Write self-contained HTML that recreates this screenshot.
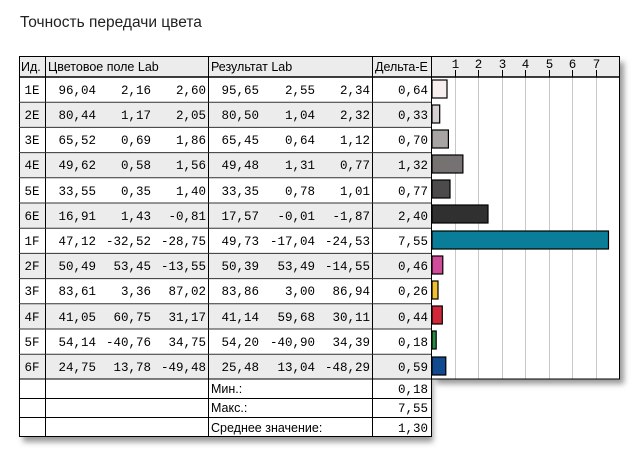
<!DOCTYPE html>
<html><head><meta charset="utf-8"><style>
html,body{margin:0;padding:0;background:#fff;width:640px;height:460px;overflow:hidden}
svg{display:block}
.m{font-family:"Liberation Mono",monospace;font-size:12.5px;fill:#000}
.s{font-family:"Liberation Sans","DejaVu Sans",sans-serif;font-size:12.5px;fill:#000}
</style></head><body>
<svg width="640" height="460" viewBox="0 0 640 460">
<defs><filter id="sh" x="-5%" y="-5%" width="115%" height="115%"><feGaussianBlur stdDeviation="3"/></filter></defs>
<text x="20" y="27" font-family="Liberation Sans, DejaVu Sans, sans-serif" font-size="15.5" fill="#222">Точность передачи цвета</text>
<rect x="23" y="62" width="410" height="380" fill="#999" filter="url(#sh)"/>
<rect x="436" y="62" width="188" height="322" fill="#999" filter="url(#sh)"/>
<rect x="19" y="56" width="412" height="381" fill="#fff"/>
<rect x="431" y="56" width="189" height="323" fill="#fff"/>
<rect x="19" y="56" width="601" height="21" fill="#ececec"/>
<rect x="19" y="102.2" width="412" height="25.2" fill="#ececec"/>
<rect x="19" y="152.6" width="412" height="25.2" fill="#ececec"/>
<rect x="19" y="203" width="412" height="25.2" fill="#ececec"/>
<rect x="19" y="253.4" width="412" height="25.2" fill="#ececec"/>
<rect x="19" y="303.8" width="412" height="25.2" fill="#ececec"/>
<rect x="19" y="354.2" width="412" height="25.2" fill="#ececec"/>
<g stroke="#c8c8c8" stroke-width="1">
<line x1="455.5" y1="77" x2="455.5" y2="379"/><line x1="478.5" y1="77" x2="478.5" y2="379"/>
<line x1="502.5" y1="77" x2="502.5" y2="379"/><line x1="525.5" y1="77" x2="525.5" y2="379"/>
<line x1="549.5" y1="77" x2="549.5" y2="379"/><line x1="572.5" y1="77" x2="572.5" y2="379"/>
<line x1="596.5" y1="77" x2="596.5" y2="379"/>
</g>
<g stroke="#000" stroke-width="1">
<line x1="455.5" y1="70" x2="455.5" y2="77"/><line x1="478.5" y1="70" x2="478.5" y2="77"/>
<line x1="502.5" y1="70" x2="502.5" y2="77"/><line x1="525.5" y1="70" x2="525.5" y2="77"/>
<line x1="549.5" y1="70" x2="549.5" y2="77"/><line x1="572.5" y1="70" x2="572.5" y2="77"/>
<line x1="596.5" y1="70" x2="596.5" y2="77"/>
</g>
<g class="m" font-size="11" text-anchor="middle">
<text x="455.5" y="68">1</text><text x="478.5" y="68">2</text><text x="502.5" y="68">3</text><text x="525.5" y="68">4</text><text x="549.5" y="68">5</text><text x="572.5" y="68">6</text><text x="596.5" y="68">7</text>
</g>
<g stroke="#000" stroke-width="1.2">
<rect x="432" y="80" width="15" height="18" fill="#f8eeee"/>
<rect x="432" y="105" width="7.7" height="18" fill="#d8d0d0"/>
<rect x="432" y="130" width="16.4" height="18" fill="#a8a4a4"/>
<rect x="432" y="155" width="30.9" height="18" fill="#767272"/>
<rect x="432" y="180" width="18" height="18" fill="#4c4a4a"/>
<rect x="432" y="205" width="56" height="18" fill="#303030"/>
<rect x="432" y="231" width="176.5" height="18" fill="#0a7e98"/>
<rect x="432" y="256" width="10.8" height="18" fill="#d04c9a"/>
<rect x="432" y="281" width="6" height="18" fill="#f0c030"/>
<rect x="432" y="306" width="10.3" height="18" fill="#d02838"/>
<rect x="432" y="331" width="4.2" height="18" fill="#2a8a40"/>
<rect x="432" y="357" width="13.8" height="18" fill="#124a90"/>
</g>
<g stroke="#000" stroke-width="1">
<rect x="19.5" y="56.5" width="600" height="322.5" fill="none"/>
<line x1="19" y1="77" x2="620" y2="77" stroke-width="1.5"/>
<line x1="19.5" y1="379" x2="19.5" y2="437"/>
<line x1="19" y1="436.5" x2="432" y2="436.5"/>
<line x1="45.5" y1="56" x2="45.5" y2="437"/>
<line x1="208.5" y1="56" x2="208.5" y2="437"/>
<line x1="372.5" y1="56" x2="372.5" y2="437"/>
<line x1="431.5" y1="56" x2="431.5" y2="437"/>
<line x1="19" y1="398.5" x2="432" y2="398.5"/>
<line x1="19" y1="417.5" x2="432" y2="417.5"/>
</g>
<g stroke="#333" stroke-width="1">
<line x1="19" y1="102.2" x2="431" y2="102.2"/><line x1="19" y1="127.4" x2="431" y2="127.4"/>
<line x1="19" y1="152.6" x2="431" y2="152.6"/><line x1="19" y1="177.8" x2="431" y2="177.8"/>
<line x1="19" y1="203" x2="431" y2="203"/><line x1="19" y1="228.2" x2="431" y2="228.2"/>
<line x1="19" y1="253.4" x2="431" y2="253.4"/><line x1="19" y1="278.6" x2="431" y2="278.6"/>
<line x1="19" y1="303.8" x2="431" y2="303.8"/><line x1="19" y1="329" x2="431" y2="329"/>
<line x1="19" y1="354.2" x2="431" y2="354.2"/>
</g>
<text class="s" x="21" y="71">Ид.</text>
<text class="s" x="48" y="71">Цветовое поле Lab</text>
<text class="s" x="211" y="71">Результат Lab</text>
<text class="s" x="375" y="71">Дельта-E</text>
<g class="m" text-anchor="end">
<g text-anchor="middle">
<text x="32" y="94">1E</text><text x="32" y="119">2E</text><text x="32" y="144">3E</text><text x="32" y="169">4E</text><text x="32" y="195">5E</text><text x="32" y="220">6E</text><text x="32" y="245">1F</text><text x="32" y="270">2F</text><text x="32" y="295">3F</text><text x="32" y="321">4F</text><text x="32" y="346">5F</text><text x="32" y="371">6F</text>
</g>
<text x="96" y="94">96,04</text><text x="151" y="94">2,16</text><text x="206" y="94">2,60</text><text x="259" y="94">95,65</text><text x="315" y="94">2,55</text><text x="370" y="94">2,34</text><text x="428" y="94">0,64</text>
<text x="96" y="119">80,44</text><text x="151" y="119">1,17</text><text x="206" y="119">2,05</text><text x="259" y="119">80,50</text><text x="315" y="119">1,04</text><text x="370" y="119">2,32</text><text x="428" y="119">0,33</text>
<text x="96" y="144">65,52</text><text x="151" y="144">0,69</text><text x="206" y="144">1,86</text><text x="259" y="144">65,45</text><text x="315" y="144">0,64</text><text x="370" y="144">1,12</text><text x="428" y="144">0,70</text>
<text x="96" y="169">49,62</text><text x="151" y="169">0,58</text><text x="206" y="169">1,56</text><text x="259" y="169">49,48</text><text x="315" y="169">1,31</text><text x="370" y="169">0,77</text><text x="428" y="169">1,32</text>
<text x="96" y="195">33,55</text><text x="151" y="195">0,35</text><text x="206" y="195">1,40</text><text x="259" y="195">33,35</text><text x="315" y="195">0,78</text><text x="370" y="195">1,01</text><text x="428" y="195">0,77</text>
<text x="96" y="220">16,91</text><text x="151" y="220">1,43</text><text x="206" y="220">-0,81</text><text x="259" y="220">17,57</text><text x="315" y="220">-0,01</text><text x="370" y="220">-1,87</text><text x="428" y="220">2,40</text>
<text x="96" y="245">47,12</text><text x="151" y="245">-32,52</text><text x="206" y="245">-28,75</text><text x="259" y="245">49,73</text><text x="315" y="245">-17,04</text><text x="370" y="245">-24,53</text><text x="428" y="245">7,55</text>
<text x="96" y="270">50,49</text><text x="151" y="270">53,45</text><text x="206" y="270">-13,55</text><text x="259" y="270">50,39</text><text x="315" y="270">53,49</text><text x="370" y="270">-14,55</text><text x="428" y="270">0,46</text>
<text x="96" y="295">83,61</text><text x="151" y="295">3,36</text><text x="206" y="295">87,02</text><text x="259" y="295">83,86</text><text x="315" y="295">3,00</text><text x="370" y="295">86,94</text><text x="428" y="295">0,26</text>
<text x="96" y="321">41,05</text><text x="151" y="321">60,75</text><text x="206" y="321">31,17</text><text x="259" y="321">41,14</text><text x="315" y="321">59,68</text><text x="370" y="321">30,11</text><text x="428" y="321">0,44</text>
<text x="96" y="346">54,14</text><text x="151" y="346">-40,76</text><text x="206" y="346">34,75</text><text x="259" y="346">54,20</text><text x="315" y="346">-40,90</text><text x="370" y="346">34,39</text><text x="428" y="346">0,18</text>
<text x="96" y="371">24,75</text><text x="151" y="371">13,78</text><text x="206" y="371">-49,48</text><text x="259" y="371">25,48</text><text x="315" y="371">13,04</text><text x="370" y="371">-48,29</text><text x="428" y="371">0,59</text>
<text x="428" y="393">0,18</text><text x="428" y="412">7,55</text><text x="428" y="432">1,30</text>
</g>
<text class="s" x="211" y="393">Мин.:</text>
<text class="s" x="211" y="412">Макс.:</text>
<text class="s" x="211" y="432">Среднее значение:</text>
</svg>
</body></html>
